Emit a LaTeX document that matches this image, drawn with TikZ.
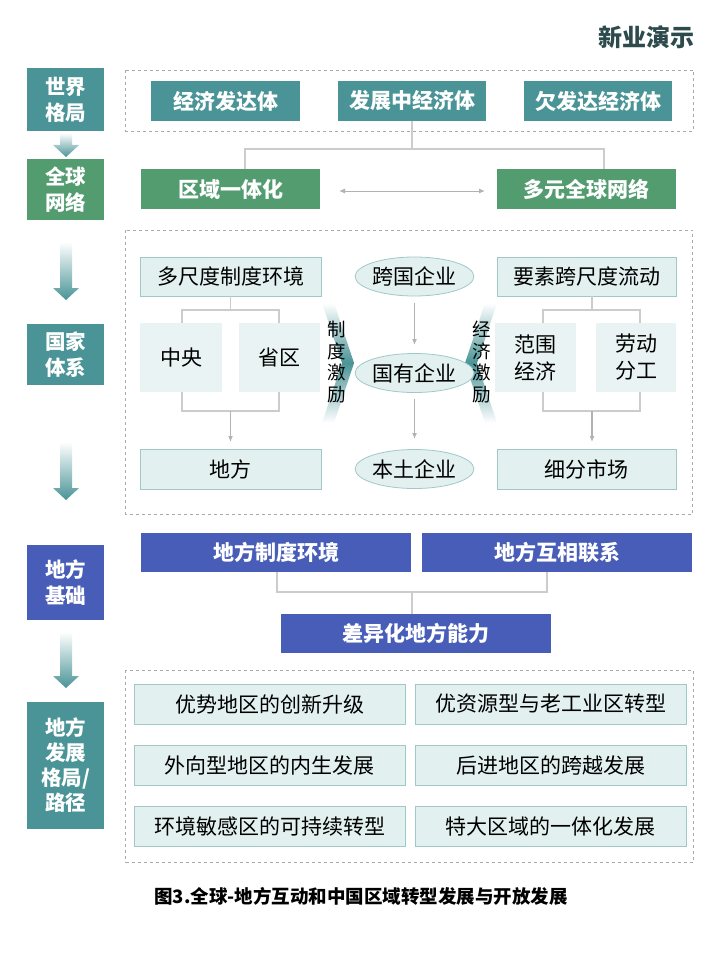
\documentclass[tikz,border=0pt]{standalone}
\usepackage{fontspec}
\setmainfont{Noto Sans CJK SC}
\usetikzlibrary{arrows.meta,shapes.geometric}
\definecolor{tealc}{RGB}{74,148,151}
\definecolor{greenc}{RGB}{82,156,112}
\definecolor{bluec}{RGB}{72,93,183}
\definecolor{lightc}{RGB}{227,240,240}
\definecolor{lightb}{RGB}{160,200,201}
\definecolor{linec}{RGB}{204,204,204}
\definecolor{arrc}{RGB}{178,178,178}
\definecolor{dashc}{RGB}{170,170,170}
\definecolor{titlec}{RGB}{45,74,77}
\newcommand\fsz[2]{\fontsize{#1}{#2}\selectfont}
\begin{document}
\begin{tikzpicture}[x=1pt,y=-1pt,
  labbox/.style={fill=#1,text=white,font=\fsz{20.5}{26}\bfseries,align=center,inner sep=0pt,minimum width=77pt},
  darkbox/.style={fill=#1,text=white,font=\fsz{21}{24}\bfseries,inner sep=0pt,minimum height=40pt},
  litebox/.style={fill=lightc,draw=lightb,line width=0.8pt,text=black,font=\fsz{21}{24},inner sep=0pt,minimum height=39pt},
  plainbox/.style={fill=lightc!80!white,text=black,font=\fsz{21}{27},align=center,inner sep=0pt,minimum height=69pt},
  oval/.style={ellipse,fill=lightc,draw=lightb,line width=0.8pt,text=black,font=\fsz{21}{24},inner sep=0pt,minimum width=103pt,minimum height=39pt},
  dashbox/.style={draw=dashc,dashed,line width=0.8pt},
  conn/.style={draw=linec,line width=1.3pt},
  garrow/.style={draw=arrc,line width=1.3pt,-{Latex[length=6pt,width=5pt]}},
  vtext/.style={font=\fsz{18.5}{21.5},align=center,inner sep=0pt,text=black}
]
\useasboundingbox (0,0) rectangle (720,960);
\fill[white] (0,0) rectangle (720,960);

% title
\node[font=\fsz{24}{26}\bfseries,text=titlec] (title) at (646,37) {新业演示};

% left column labels
\node[labbox=tealc,minimum height=63pt] (l1) at (65.5,99.5) {世界\\格局};
\node[labbox=greenc,minimum height=61pt] (l2) at (65.5,189.5) {全球\\网络};
\node[labbox=tealc,minimum height=61pt] (l3) at (65.5,354.5) {国家\\体系};
\node[labbox=bluec,minimum height=75pt] (l4) at (65.5,582.5) {地方\\基础};
\node[labbox=tealc,minimum height=127pt,font=\fsz{20.5}{25}\bfseries] (l5) at (65.5,765.5) {地方\\发展\\格局/\\路径};

% left gradient arrows
\foreach \ya/\yh/\yb in {133/145/157, 242/288/300, 442/488/500, 632/676/688}{
  \shade[top color=white,bottom color=tealc]
    (60,\ya) -- (72,\ya) -- (72,\yh) -- (79,\yh) -- (66,\yb) -- (53,\yh) -- (60,\yh) -- cycle;
}

% world section
\draw[dashbox] (125.5,70) rectangle (693,131);
\node[darkbox=tealc,minimum width=149pt] (e1) at (225.5,101) {经济发达体};
\node[darkbox=tealc,minimum width=148pt] (e2) at (412,101) {发展中经济体};
\node[darkbox=tealc,minimum width=148pt] (e3) at (598,101) {欠发达经济体};
\node[darkbox=greenc,minimum width=179pt] (g1) at (230.5,189) {区域一体化};
\node[darkbox=greenc,minimum width=179pt] (g2) at (586.5,189) {多元全球网络};
\coordinate (j1) at (412,149);
\draw[conn] (e2.south) -- (j1);
\draw[conn] (245,169) -- (245,149) -- (604,149) -- (604,169);
\coordinate (da) at (339,191);
\coordinate (db) at (485,191);
\draw[draw=arrc,line width=1pt,{Latex[length=6pt,width=5pt]}-{Latex[length=6pt,width=5pt]}] (da) -- (db);

% national section
\draw[dashbox] (125.5,230) rectangle (692.5,514);
% chevrons
\shade[top color=white,bottom color=white,middle color=tealc]
  (322,303) -- (334,303) -- (354,363) -- (334,423) -- (322,423) -- (342,363) -- cycle;
\shade[top color=white,bottom color=white,middle color=tealc]
  (497,303) -- (485,303) -- (465,363) -- (485,423) -- (497,423) -- (477,363) -- cycle;

\node[litebox,minimum width=181pt] (n1) at (230.5,276.5) {多尺度制度环境};
\node[plainbox,minimum width=82pt] (n2) at (181,357.5) {中央};
\node[plainbox,minimum width=81pt] (n3) at (279.5,357.5) {省区};
\node[litebox,minimum width=181pt,minimum height=40pt] (n4) at (230.5,469) {地方};
\node[litebox,minimum width=179pt] (m1) at (586.5,276.5) {要素跨尺度流动};
\node[plainbox,minimum width=81pt] (m2) at (535.5,357.5) {范围\\经济};
\node[plainbox,minimum width=80pt] (m3) at (636,357.5) {劳动\\分工};
\node[litebox,minimum width=179pt,minimum height=40pt] (m4) at (586.5,469) {细分市场};
\node[oval] (o1) at (414.5,276.5) {跨国企业};
\node[oval] (o2) at (414.5,373) {国有企业};
\node[oval] (o3) at (414.5,469) {本土企业};

\node[vtext] (v1) at (337,362) {制\\度\\激\\励};
\node[vtext] (v2) at (482,362) {经\\济\\激\\励};

% left tree
\draw[conn] (n1.south) -- (230.5,310);
\draw[conn] (182,323) -- (182,310) -- (279,310) -- (279,323);
\draw[conn] (182,392) -- (182,411) -- (279,411) -- (279,392);
\coordinate (lk) at (230.5,411);
\draw[garrow] (lk) -- (230.5,442);
% right tree
\draw[conn] (592,296) -- (592,310);
\draw[conn] (543,323) -- (543,310) -- (640,310) -- (640,323);
\draw[conn] (543,392) -- (543,411) -- (640,411) -- (640,392);
\coordinate (rk) at (592,411);
\draw[garrow] (rk) -- (592,442);
% ellipse arrows
\draw[garrow] (414.5,303) -- (414.5,345);
\draw[garrow] (414.5,399) -- (414.5,439);

% local base
\node[darkbox=bluec,minimum width=270pt,minimum height=39pt] (b1) at (276,552.5) {地方制度环境};
\node[darkbox=bluec,minimum width=270pt,minimum height=39pt] (b2) at (557,552.5) {地方互相联系};
\node[darkbox=bluec,minimum width=270pt,minimum height=39pt] (b3) at (416,633.5) {差异化地方能力};
\draw[conn] (277,572) -- (277,592) -- (547,592) -- (547,572);
\draw[conn] (412,592) -- (412,614);

% local development
\draw[dashbox] (125.5,670) rectangle (693,862);
\node[litebox,minimum width=271pt,minimum height=40pt] (p1) at (269.5,704) {优势地区的创新升级};
\node[litebox,minimum width=271pt,minimum height=40pt] (p2) at (550.5,704) {优资源型与老工业区转型};
\node[litebox,minimum width=271pt,minimum height=40pt] (p3) at (269.5,765.5) {外向型地区的内生发展};
\node[litebox,minimum width=271pt,minimum height=40pt] (p4) at (550.5,765.5) {后进地区的跨越发展};
\node[litebox,minimum width=271pt,minimum height=40pt] (p5) at (269.5,826) {环境敏感区的可持续转型};
\node[litebox,minimum width=271pt,minimum height=40pt] (p6) at (550.5,826) {特大区域的一体化发展};

% caption
\node[font=\fsz{18.5}{20}\bfseries,text=black] (cap) at (361,896) {图3.全球-地方互动和中国区域转型发展与开放发展};
\end{tikzpicture}
\end{document}
